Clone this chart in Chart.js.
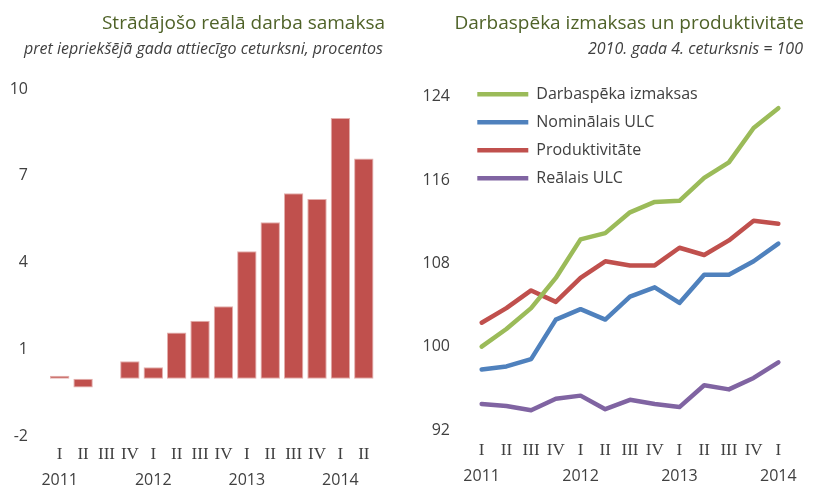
<!DOCTYPE html>
<html>
<head>
<meta charset="utf-8">
<script src="https://cdn.jsdelivr.net/npm/chart.js@4.4.0/dist/chart.umd.min.js"></script>
<style>
  body { margin: 0; width: 815px; height: 487px; background: #fff; position: relative; overflow: hidden; font-family: 'Open Sans', sans-serif; }
  .panel { position: absolute; top: 0; height: 487px; }
  #wagePanel { left: 0; width: 400px; }
  #costPanel { left: 410px; width: 405px; }
  .title { position: absolute; top: 10px; font-size: 19px; line-height: 24px; color: #4F6228; white-space: nowrap; }
  .sub { position: absolute; top: 39px; font-size: 16px; line-height: 18px; font-style: italic; color: #404040; white-space: nowrap; }
</style>
</head>
<body>
<div class="panel" id="wagePanel">
  <canvas id="wageChart"></canvas>
  <div class="title" style="right:15px">Strādājošo reālā darba samaksa</div>
  <div class="sub" style="right:17px">pret iepriekšējā gada attiecīgo ceturksni, procentos</div>
</div>
<div class="panel" id="costPanel">
  <canvas id="costChart"></canvas>
  <div class="title" style="right:11px">Darbaspēka izmaksas un produktivitāte</div>
  <div class="sub" style="right:12px">2010. gada 4. ceturksnis = 100</div>
</div>
<script>
// Real wage growth, % y/y, 2011 Q1 - 2014 Q2
var wageQuarters = ['I', 'II', 'III', 'IV', 'I', 'II', 'III', 'IV', 'I', 'II', 'III', 'IV', 'I', 'II'];
var wageYears = ['2011', '', '', '', '2012', '', '', '', '2013', '', '', '', '2014', ''];
var wageGrowth = [0.1, -0.3, 0, 0.6, 0.4, 1.6, 2.0, 2.5, 4.4, 5.4, 6.4, 6.2, 9.0, 7.6];
var wageTicks = [-2, 1, 4, 7, 10];

// Labour cost indices, 2010 Q4 = 100, 2011 Q1 - 2014 Q1
var costQuarters = ['I', 'II', 'III', 'IV', 'I', 'II', 'III', 'IV', 'I', 'II', 'III', 'IV', 'I'];
var costYears = ['2011', '', '', '', '2012', '', '', '', '2013', '', '', '', '2014'];
var laborCost = [100.0, 101.7, 103.7, 106.6, 110.3, 110.9, 112.9, 113.9, 114.0, 116.2, 117.7, 121.0, 122.9];
var nominalUlc = [97.8, 98.1, 98.8, 102.6, 103.6, 102.6, 104.8, 105.7, 104.2, 106.9, 106.9, 108.2, 109.9];
var productivity = [102.3, 103.7, 105.4, 104.3, 106.6, 108.2, 107.8, 107.8, 109.5, 108.8, 110.2, 112.1, 111.8];
var realUlc = [94.5, 94.3, 93.9, 95.0, 95.3, 94.0, 94.9, 94.5, 94.2, 96.3, 95.9, 97.0, 98.5];
var costTicks = [92, 100, 108, 116, 124];

var textColor = '#404040';
var sansFont = { family: "'Open Sans', sans-serif", size: 16 };
var romanFont = { family: "'Liberation Serif', serif", size: 17 };

function fixedTicks(values) {
    return function(scale) {
        scale.ticks = values.map(function(v) { return { value: v }; });
    };
}

function quarterAxis(padding) {
    return {
        type: 'category',
        weight: 0,
        offset: true,
        grid: { display: false, drawTicks: false },
        border: { display: false },
        ticks: { color: textColor, font: romanFont, padding: padding, autoSkip: false, maxRotation: 0 },
        afterFit: function(scale) { scale.height = 28; }
    };
}

function yearAxis(labels, padding, height) {
    return {
        type: 'category',
        labels: labels,
        position: 'bottom',
        weight: 1,
        offset: true,
        grid: { display: false, drawTicks: false },
        border: { display: false },
        ticks: { color: textColor, font: sansFont, padding: padding, autoSkip: false, maxRotation: 0 },
        afterFit: function(scale) { scale.height = height; }
    };
}

new Chart(document.getElementById('wageChart'), {
    type: 'bar',
    data: {
        labels: wageQuarters,
        datasets: [{
            label: 'Reālā darba samaksa',
            data: wageGrowth,
            backgroundColor: '#C0504D',
            borderColor: '#E3AEAC',
            borderWidth: 1,
            borderSkipped: false,
            barPercentage: 0.83,
            categoryPercentage: 1
        }]
    },
    options: {
        responsive: true,
        maintainAspectRatio: false,
        animation: false,
        events: [],
        layout: { padding: { left: 0, right: 24.5, top: 89, bottom: 0 } },
        plugins: { legend: { display: false }, tooltip: { enabled: false } },
        scales: {
            x: quarterAxis(8),
            x2: yearAxis(wageYears, 6, 22.3),
            y: {
                min: -2,
                max: 10,
                grid: { display: false, drawTicks: false },
                border: { display: false },
                ticks: { color: textColor, font: sansFont, padding: 20 },
                afterBuildTicks: fixedTicks(wageTicks),
                afterFit: function(scale) { scale.width = 48; }
            }
        }
    }
});

function lineSeries(label, values, color) {
    return {
        label: label,
        data: values,
        borderColor: color,
        backgroundColor: color,
        borderWidth: 4.5,
        borderCapStyle: 'round',
        borderJoinStyle: 'round',
        pointRadius: 0,
        tension: 0,
        fill: false
    };
}

// pull the in-plot legend a little closer to the y axis
var legendNudge = {
    id: 'legendNudge',
    afterLayout: function(chart) {
        chart.legend.left -= 4;
        chart.legend.right -= 4;
    }
};

new Chart(document.getElementById('costChart'), {
    type: 'line',
    data: {
        labels: costQuarters,
        datasets: [
            lineSeries('Darbaspēka izmaksas', laborCost, '#9BBB59'),
            lineSeries('Nominālais ULC', nominalUlc, '#4F81BD'),
            lineSeries('Produktivitāte', productivity, '#C0504D'),
            lineSeries('Reālais ULC', realUlc, '#8064A2')
        ]
    },
    plugins: [legendNudge],
    options: {
        responsive: true,
        maintainAspectRatio: false,
        animation: false,
        events: [],
        layout: { padding: { left: 0, right: 24.3, top: 96.7, bottom: 0 } },
        plugins: {
            tooltip: { enabled: false },
            legend: {
                position: 'chartArea',
                align: 'start',
                // empty title pushes the entries down into the plot
                title: { display: true, text: '', padding: { top: 59.8, bottom: 0 } },
                labels: {
                    usePointStyle: true,
                    pointStyle: 'line',
                    pointStyleWidth: 51,
                    padding: 12,
                    color: textColor,
                    font: sansFont
                }
            }
        },
        scales: {
            x: quarterAxis(10),
            x2: yearAxis(costYears, 9, 29),
            y: {
                min: 92,
                max: 124,
                grid: { display: false, drawTicks: false },
                border: { display: false },
                ticks: { color: textColor, font: sansFont, padding: 19.3 },
                afterBuildTicks: fixedTicks(costTicks),
                afterFit: function(scale) { scale.width = 59.3; }
            }
        }
    }
});
</script>
</body>
</html>
